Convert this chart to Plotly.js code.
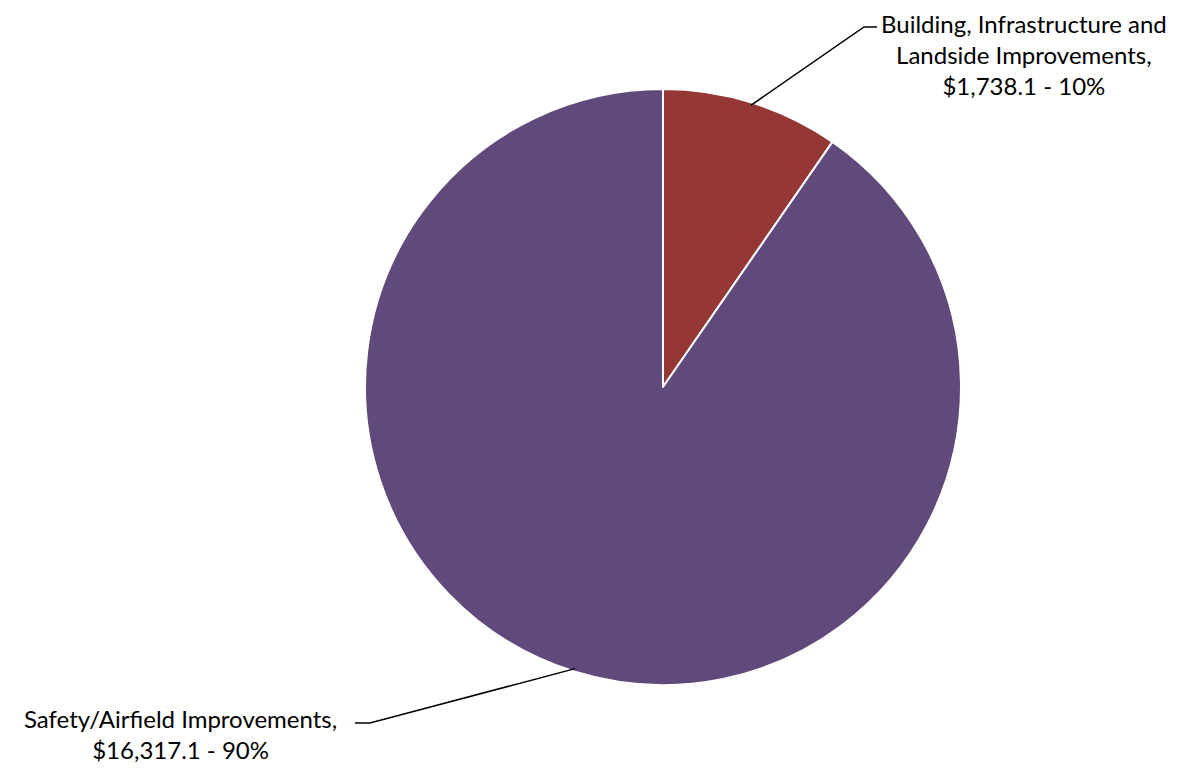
<!DOCTYPE html>
<html><head><meta charset="utf-8">
<script src="https://cdn.plot.ly/plotly-3.0.1.min.js"></script>
<style>html,body{margin:0;padding:0;background:#fff}#chart{width:1184px;height:768px}</style>
</head><body><div id="chart"></div>
<script>
const categories = ["Building, Infrastructure and Landside Improvements", "Safety/Airfield Improvements"];
const labelLines = [["Building, Infrastructure and", "Landside Improvements,"], ["Safety/Airfield Improvements,"]];
const values = [1738.1, 16317.1];
const colors = ["#953735", "#604A7B"];

const W = 1184, H = 768;
const cx = 663, cy = 387, r = 298;
const total = values.reduce((a, b) => a + b, 0);
const fmt = v => "$" + v.toLocaleString("en-US", {minimumFractionDigits: 1, maximumFractionDigits: 1});
const texts = values.map((v, i) => labelLines[i].join("<br>") + "<br>" + fmt(v) + " - " + Math.round(v / total * 100) + "%");

// label anchor positions (layout)
const labelPos = [{x: 1024, y: 54, ex: 864, ey: 27, hx: 877}, {x: 180, y: 734, ex: 370, ey: 723, hx: 355}];

const trace = {
  type: "pie", labels: categories, values: values, sort: false, direction: "clockwise", rotation: 0,
  marker: {colors: colors, line: {color: "#ffffff", width: 2}},
  textinfo: "none", hoverinfo: "label+value+percent", showlegend: false,
  domain: {x: [(cx - r) / W, (cx + r) / W], y: [1 - (cy + r) / H, 1 - (cy - r) / H]}
};

let cum = 0;
const shapes = [], annotations = [];
values.forEach((v, i) => {
  const mid = (cum + v / 2) / total * 2 * Math.PI;
  cum += v;
  const px = cx + (r - 3) * Math.sin(mid), py = cy - (r - 3) * Math.cos(mid);
  const L = labelPos[i];
  shapes.push({type: "path", xref: "paper", yref: "paper",
    path: `M ${px / W} ${1 - py / H} L ${L.ex / W} ${1 - L.ey / H} L ${L.hx / W} ${1 - L.ey / H}`,
    line: {color: "#000000", width: 1.5}});
  annotations.push({xref: "paper", yref: "paper", x: L.x / W, y: 1 - L.y / H, xanchor: "center", yanchor: "middle",
    text: texts[i], showarrow: false, align: "center",
    font: {family: "Lato, 'Noto Sans', sans-serif", size: 24, color: "#000000"}});
});

Plotly.newPlot("chart", [trace], {
  width: W, height: H, margin: {l: 0, r: 0, t: 0, b: 0},
  paper_bgcolor: "#ffffff", plot_bgcolor: "#ffffff",
  shapes: shapes, annotations: annotations
}, {displayModeBar: false, staticPlot: true});
</script></body></html>
